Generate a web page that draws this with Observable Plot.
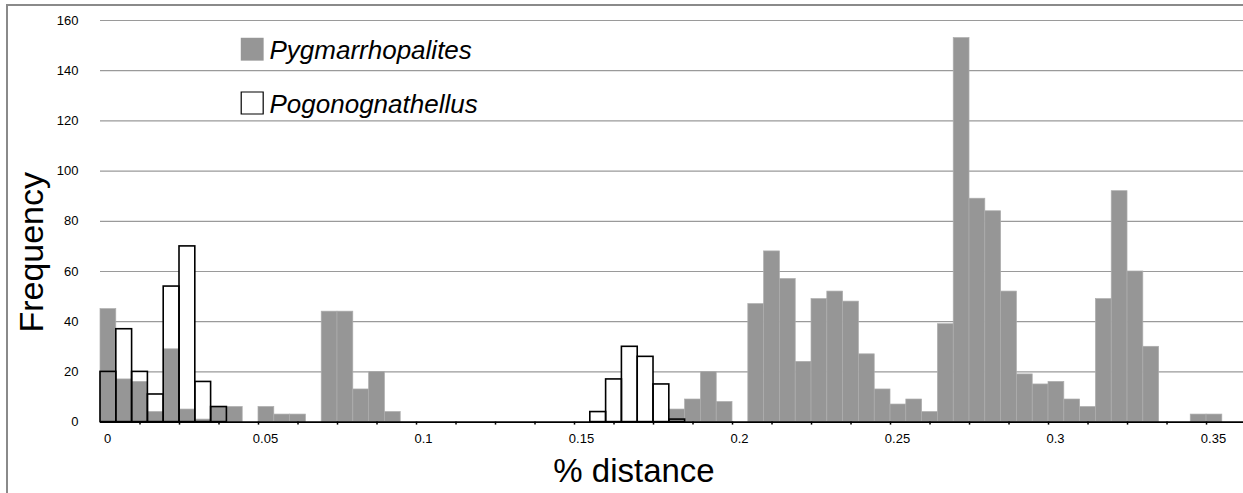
<!DOCTYPE html>
<html><head><meta charset="utf-8">
<script src="https://cdn.jsdelivr.net/npm/d3@7"></script>
<script src="https://cdn.jsdelivr.net/npm/@observablehq/plot@0.6"></script>
<style>
body{margin:0;background:#fff;}
#wrap{position:relative;width:1243px;height:493px;overflow:hidden;}
#wrap svg{position:absolute;left:0;top:0;}
#border{position:absolute;left:6px;top:4px;width:1260px;height:487px;border-left:2px solid #8a8a8a;border-top:2px solid #8a8a8a;pointer-events:none;}
</style></head><body><div id="wrap"><div id="border"></div></div>
<script>
// bin width of the histogram (% distance)
const binWidth = 0.005;
// frequencies per bin, bins start at 0, 0.005, 0.01, ...
const pygmarrhopalites = [
  45,17,16,4,29,5,1,6,6,0,
  6,3,3,0,44,44,13,20,4,0,
  0,0,0,0,0,0,0,0,0,0,
  0,0,0,0,0,0,5,9,20,8,
  0,47,68,57,24,49,52,48,27,13,
  7,9,4,39,153,89,84,52,19,15,
  16,9,6,49,92,60,30,0,0,3,
  3
];
const pogonognathellus = [
  20,37,20,11,54,70,16,6,0,0,
  0,0,0,0,0,0,0,0,0,0,
  0,0,0,0,0,0,0,0,0,0,
  0,4,17,30,26,15,1,0,0,0,
  0,0,0,0,0,0,0,0,0,0,
  0,0,0,0,0,0,0,0,0,0,
  0,0,0,0,0,0,0,0,0,0,
  0
];
const seriesNames = ["Pygmarrhopalites", "Pogonognathellus"];
const xTickLabels = [0, 0.05, 0.1, 0.15, 0.2, 0.25, 0.3, 0.35];
const xMinorTicks = [0.0125,0.025,0.0375,0.05,0.0625,0.075,0.0875,0.1,0.1125,0.125,0.1375,0.15,0.1625,0.175,0.1875,0.2,0.2125,0.225,0.2375,0.25,0.2625,0.275,0.2875,0.3,0.3125,0.325,0.3375,0.35];
const yTicks = [0, 20, 40, 60, 80, 100, 120, 140, 160];
const xLabel = "% distance";
const yLabel = "Frequency";

const bins = pygmarrhopalites.map((v, i) => ({
  x1: +(i * binWidth).toFixed(4),
  x2: +((i + 1) * binWidth).toFixed(4),
  pyg: v,
  pog: pogonognathellus[i]
}));

const font = "'Liberation Sans', Arial, sans-serif";
const grey = "#969696";

const chart = Plot.plot({
  width: 1243,
  height: 493,
  marginLeft: 100,
  marginRight: 0,
  marginTop: 20,
  marginBottom: 71.4,
  style: {fontFamily: font, background: "transparent", color: "#000"},
  x: {domain: [0, 0.3617], label: null},
  y: {domain: [0, 160], label: null},
  marks: [
    Plot.ruleY(yTicks.filter(d => d > 0), {stroke: "#9a9a9a", strokeWidth: 1.2}),
    // opaque white backing of the Pogonognathellus bars
    Plot.rectY(bins, {filter: d => d.pog > 0, x1: "x1", x2: "x2", y: "pog", fill: "white"}),
    // Pygmarrhopalites bars
    Plot.rectY(bins, {filter: d => d.pyg > 0, x1: "x1", x2: "x2", y: "pyg", fill: grey, stroke: "#adadad", strokeWidth: 0.7}),
    // Pogonognathellus outlines
    Plot.rectY(bins, {filter: d => d.pog > 0, x1: "x1", x2: "x2", y: "pog", fill: "none", stroke: "#000", strokeWidth: 1.6}),
    Plot.ruleY([0], {stroke: "#000", strokeWidth: 1.6}),
    Plot.axisX(xMinorTicks, {tickSize: 3, strokeWidth: 1.5, tickFormat: () => ""}),
    Plot.axisX(xTickLabels, {tickSize: 0, tickPadding: 11.5, dx: 7, fontSize: 13, tickFormat: d => String(d)}),
    Plot.axisY(yTicks, {tickSize: 0, tickPadding: 22, fontSize: 13}),
    Plot.text([yLabel], {frameAnchor: "left", rotate: -90, dx: -68, dy: 31, fontSize: 34, lineAnchor: "middle", textAnchor: "middle"}),
    Plot.text([xLabel], {frameAnchor: "bottom", dx: -38, dy: 36.7, fontSize: 33, lineAnchor: "top", textAnchor: "middle"}),
    // legend
    Plot.dot([seriesNames[0]], {frameAnchor: "top-left", dx: 151.7, dy: 28.7, symbol: "square", r: 12.9, fill: grey}),
    Plot.dot([seriesNames[1]], {frameAnchor: "top-left", dx: 151.7, dy: 82.5, symbol: "square", r: 12.4, fill: "white", stroke: "#000", strokeWidth: 1.2}),
    Plot.text([seriesNames[0]], {frameAnchor: "top-left", dx: 169, dy: 19.8, fontSize: 26, fontStyle: "italic", lineAnchor: "top", textAnchor: "start", text: d => d}),
    Plot.text([seriesNames[1]], {frameAnchor: "top-left", dx: 169, dy: 74.5, fontSize: 26, fontStyle: "italic", lineAnchor: "top", textAnchor: "start", text: d => d})
  ]
});
document.getElementById("wrap").appendChild(chart);
</script>
</body></html>
